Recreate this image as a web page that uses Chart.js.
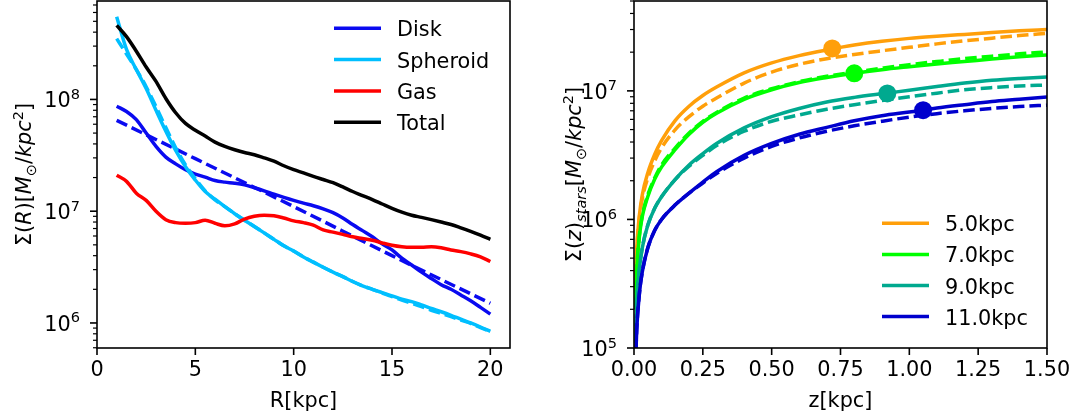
<!DOCTYPE html>
<html>
<head>
<meta charset="utf-8">
<script src="https://cdn.jsdelivr.net/npm/chart.js@4"></script>
<style>
  body { margin: 0; background: #fff; overflow: hidden; }
  #c1 { position: absolute; left: 0; top: 0; }
  #c2 { position: absolute; left: 560px; top: 0; }
</style>
</head>
<body>
<canvas id="c1" width="540" height="419"></canvas>
<canvas id="c2" width="518" height="419"></canvas>
<script>
// ---- left panel: surface density vs radius
const radius = [1, 1.5, 2, 2.5, 3, 3.5, 4, 4.5, 5, 5.5, 6, 6.5, 7, 7.5, 8, 8.5, 9, 9.5, 10, 10.5,
  11, 11.5, 12, 12.5, 13, 13.5, 14, 14.5, 15, 15.5, 16, 16.5, 17, 17.5, 18, 18.5, 19, 19.5, 20];
const diskR = [8.7e7, 7.8e7, 6.6e7, 5.0e7, 3.8e7, 3.05e7, 2.65e7, 2.35e7, 2.15e7, 2.02e7, 1.88e7, 1.82e7,
  1.78e7, 1.72e7, 1.62e7, 1.52e7, 1.42e7, 1.33e7, 1.25e7, 1.18e7, 1.12e7, 1.05e7, 9.7e6, 8.7e6, 7.6e6,
  6.7e6, 5.9e6, 5.1e6, 4.5e6, 3.8e6, 3.3e6, 2.85e6, 2.5e6, 2.2e6, 2.0e6, 1.78e6, 1.58e6, 1.38e6, 1.2e6];
const spheroidR = [5.5e8, 2.8e8, 1.85e8, 1.25e8, 8.0e7, 5.2e7, 3.5e7, 2.5e7, 1.9e7, 1.5e7, 1.28e7, 1.1e7,
  9.5e6, 8.3e6, 7.3e6, 6.4e6, 5.6e6, 4.9e6, 4.4e6, 3.9e6, 3.5e6, 3.15e6, 2.85e6, 2.6e6, 2.35e6, 2.15e6,
  2.0e6, 1.87e6, 1.75e6, 1.63e6, 1.55e6, 1.45e6, 1.35e6, 1.26e6, 1.17e6, 1.08e6, 1.0e6, 9.2e5, 8.4e5];
const spheroidFit = [3.5e8, 2.55e8, 1.85e8, 1.3e8, 8.6e7, 5.6e7, 3.7e7, 2.6e7, 1.95e7, 1.52e7, 1.26e7, 1.1e7,
  9.5e6, 8.3e6, 7.3e6, 6.4e6, 5.6e6, 4.9e6, 4.4e6, 3.9e6, 3.5e6, 3.15e6, 2.85e6, 2.6e6, 2.35e6, 2.15e6,
  2.0e6, 1.85e6, 1.72e6, 1.6e6, 1.5e6, 1.4e6, 1.3e6, 1.22e6, 1.14e6, 1.06e6, 9.9e5, 9.1e5, 8.4e5];
const gasR = [2.1e7, 1.85e7, 1.45e7, 1.25e7, 1.0e7, 8.4e6, 7.9e6, 7.8e6, 7.9e6, 8.3e6, 7.8e6, 7.4e6, 7.7e6,
  8.5e6, 9.0e6, 9.2e6, 9.1e6, 8.7e6, 8.2e6, 7.9e6, 7.5e6, 6.8e6, 6.5e6, 6.2e6, 5.9e6, 5.7e6, 5.5e6, 5.2e6,
  4.95e6, 4.8e6, 4.75e6, 4.75e6, 4.8e6, 4.7e6, 4.5e6, 4.35e6, 4.15e6, 3.9e6, 3.55e6];
const totalR = [4.6e8, 3.65e8, 2.7e8, 1.95e8, 1.45e8, 1.02e8, 7.6e7, 6.1e7, 5.3e7, 4.7e7, 4.15e7, 3.8e7, 3.55e7,
  3.35e7, 3.2e7, 3.0e7, 2.8e7, 2.55e7, 2.35e7, 2.2e7, 2.05e7, 1.92e7, 1.8e7, 1.65e7, 1.5e7, 1.38e7, 1.27e7,
  1.16e7, 1.06e7, 9.8e6, 9.2e6, 8.8e6, 8.4e6, 8.0e6, 7.6e6, 7.1e6, 6.6e6, 6.1e6, 5.6e6];
const fitR = [1, 5, 10, 15, 20];
const diskFit = [6.5e7, 2.95e7, 1.1e7, 4.0e6, 1.5e6];
const xTicksR = [0, 5, 10, 15, 20];

// ---- right panel: cumulative vertical profile
const heights = [0.005, 0.01, 0.02, 0.03, 0.05, 0.075, 0.1, 0.15, 0.2, 0.25, 0.3, 0.4, 0.5, 0.6, 0.7,
  0.8, 0.9, 1.0, 1.1, 1.2, 1.3, 1.4, 1.5];
const prof5 = [3.0e5, 6.0e5, 1.1e6, 1.55e6, 2.3e6, 3.2e6, 4.1e6, 5.9e6, 7.6e6, 9.2e6, 1.07e7, 1.38e7, 1.65e7,
  1.88e7, 2.08e7, 2.27e7, 2.43e7, 2.56e7, 2.66e7, 2.75e7, 2.84e7, 2.93e7, 3.0e7];
const fit5 = [2.8e5, 5.6e5, 1.05e6, 1.45e6, 2.1e6, 2.85e6, 3.6e6, 5.0e6, 6.3e6, 7.6e6, 8.8e6, 1.15e7, 1.4e7,
  1.61e7, 1.78e7, 1.92e7, 2.05e7, 2.18e7, 2.32e7, 2.45e7, 2.57e7, 2.69e7, 2.8e7];
const prof7 = [2.0e5, 4.0e5, 7.5e5, 1.05e6, 1.5e6, 2.05e6, 2.55e6, 3.5e6, 4.6e6, 5.7e6, 6.7e6, 8.6e6, 1.02e7,
  1.16e7, 1.27e7, 1.37e7, 1.46e7, 1.54e7, 1.62e7, 1.69e7, 1.77e7, 1.84e7, 1.9e7];
const fit7 = [2.0e5, 4.1e5, 7.7e5, 1.07e6, 1.55e6, 2.1e6, 2.65e6, 3.6e6, 4.7e6, 5.8e6, 6.8e6, 8.8e6, 1.04e7,
  1.18e7, 1.3e7, 1.4e7, 1.5e7, 1.6e7, 1.69e7, 1.78e7, 1.86e7, 1.94e7, 2.01e7];
const prof9 = [1.1e5, 2.2e5, 4.2e5, 6.0e5, 9.0e5, 1.22e6, 1.5e6, 2.05e6, 2.65e6, 3.25e6, 3.9e6, 5.15e6, 6.3e6,
  7.3e6, 8.2e6, 8.9e6, 9.5e6, 1.01e7, 1.08e7, 1.15e7, 1.21e7, 1.25e7, 1.28e7];
const fit9 = [1.1e5, 2.2e5, 4.2e5, 6.0e5, 9.0e5, 1.22e6, 1.5e6, 2.05e6, 2.6e6, 3.15e6, 3.75e6, 4.85e6, 5.8e6,
  6.5e6, 7.2e6, 7.8e6, 8.4e6, 9.0e6, 9.6e6, 1.02e7, 1.06e7, 1.09e7, 1.11e7];
const prof11 = [7e4, 1.4e5, 2.7e5, 3.9e5, 6.0e5, 8.2e5, 1.0e6, 1.3e6, 1.6e6, 1.95e6, 2.35e6, 3.15e6, 3.9e6,
  4.6e6, 5.2e6, 5.85e6, 6.4e6, 6.85e6, 7.35e6, 7.8e6, 8.25e6, 8.6e6, 8.98e6];
const fit11 = [7e4, 1.4e5, 2.7e5, 3.9e5, 6.0e5, 8.2e5, 1.0e6, 1.3e6, 1.6e6, 1.92e6, 2.28e6, 3.0e6, 3.7e6,
  4.3e6, 4.85e6, 5.35e6, 5.8e6, 6.25e6, 6.65e6, 7.0e6, 7.3e6, 7.55e6, 7.74e6];
const markZ = [0.72, 0.80, 0.92, 1.05];
const markVal = [2.14e7, 1.37e7, 9.55e6, 7.08e6];
const radiiLabels = ['5.0kpc', '7.0kpc', '9.0kpc', '11.0kpc'];
const xTicksZ = [0, 0.25, 0.5, 0.75, 1.0, 1.25, 1.5];

const FONT = "'DejaVu Sans', sans-serif";
const FS = 20.8;
const LW = 3.5;
const zColors = ['#ff9f0a', '#00ff00', '#00a98f', '#0000cd'];

function curve(xs, ys, color, label, dashed) {
  return {
    label: label,
    data: xs.map((x, i) => ({ x: x, y: ys[i] })),
    borderColor: color,
    backgroundColor: color,
    borderWidth: LW,
    borderDash: dashed ? [11.6, 5] : [],
    borderJoinStyle: 'round',
    pointRadius: 0,
    cubicInterpolationMode: 'monotone',
    fill: false
  };
}

// mathtext-ish label: list of segments, drawn along the baseline
function richText(ctx, segs, size, draw) {
  let w = 0;
  segs.forEach(s => {
    const small = s.sub || s.sup;
    ctx.font = (s.it ? 'italic ' : '') + (small ? size * 0.7 : size) + 'px ' + FONT;
    const dy = s.sub ? size * 0.22 : s.sup ? -size * 0.4 : 0;
    if (draw) ctx.fillText(s.t, w, dy);
    w += ctx.measureText(s.t).width;
  });
  return w;
}

// frame, log ticks with 10^n labels, y title, legend
const decor = {
  id: 'decor',
  afterDraw(chart, args, o) {
    const ctx = chart.ctx, a = chart.chartArea;
    const xs = chart.scales.x, ys = chart.scales.y;
    ctx.save();
    ctx.strokeStyle = '#000';
    ctx.fillStyle = '#000';
    ctx.setLineDash([]);
    ctx.lineWidth = 1.6;
    ctx.strokeRect(a.left, a.top, a.right - a.left, a.bottom - a.top);

    xs.ticks.forEach(t => {
      const px = xs.getPixelForValue(t.value);
      ctx.beginPath(); ctx.moveTo(px, a.bottom); ctx.lineTo(px, a.bottom + 7); ctx.stroke();
    });

    const e0 = Math.floor(Math.log10(ys.min)), e1 = Math.ceil(Math.log10(ys.max));
    for (let e = e0; e <= e1; e++) {
      for (let s = 1; s < 10; s++) {
        const v = s * Math.pow(10, e);
        if (v < ys.min * 0.9999 || v > ys.max * 1.0001) continue;
        const py = ys.getPixelForValue(v);
        const major = s === 1;
        ctx.lineWidth = major ? 1.6 : 1.2;
        ctx.beginPath(); ctx.moveTo(a.left - (major ? 7 : 4), py); ctx.lineTo(a.left, py); ctx.stroke();
        if (major) {
          ctx.textAlign = 'left';
          ctx.textBaseline = 'alphabetic';
          ctx.font = (FS * 0.7) + 'px ' + FONT;
          const ew = ctx.measureText(String(e)).width;
          ctx.font = FS + 'px ' + FONT;
          const bw = ctx.measureText('10').width;
          const right = a.left - 17;
          ctx.fillText('10', right - ew - bw, py + 8);
          ctx.font = (FS * 0.7) + 'px ' + FONT;
          ctx.fillText(String(e), right - ew, py - 0.5);
        }
      }
    }

    // y title, rotated
    const yt = o.ytitle;
    ctx.save();
    ctx.translate(yt.x, (a.top + a.bottom) / 2);
    ctx.rotate(-Math.PI / 2);
    ctx.textAlign = 'left';
    ctx.textBaseline = 'alphabetic';
    const w = richText(ctx, yt.segs, FS, false);
    ctx.translate(-w / 2, 0);
    richText(ctx, yt.segs, FS, true);
    ctx.restore();

    // legend (solid series only)
    const lg = o.legend;
    let row = 0;
    chart.data.datasets.forEach(d => {
      if (!d.label) return;
      const y = lg.y + row * lg.dy;
      ctx.strokeStyle = d.borderColor;
      ctx.lineWidth = LW;
      ctx.beginPath(); ctx.moveTo(lg.x, y); ctx.lineTo(lg.x + 47, y); ctx.stroke();
      ctx.fillStyle = '#000';
      ctx.font = FS + 'px ' + FONT;
      ctx.textAlign = 'left';
      ctx.textBaseline = 'alphabetic';
      ctx.fillText(d.label, lg.x + 63, y + 8);
      row++;
    });
    ctx.restore();
  }
};

function xAxis(min, max, tickVals, fmt, title) {
  return {
    type: 'linear', min: min, max: max,
    afterBuildTicks: s => { s.ticks = tickVals.map(v => ({ value: v })); },
    afterFit: s => { s.height = 71; s.paddingLeft = 0; s.paddingRight = 0; },
    grid: { drawOnChartArea: false, drawTicks: false },
    border: { display: false },
    ticks: { font: { family: FONT, size: FS }, color: '#000', padding: 10, maxRotation: 0, autoSkip: false, callback: fmt },
    title: { display: true, text: title, font: { family: FONT, size: FS }, color: '#000', padding: { top: 0, bottom: 5 } }
  };
}

function yAxis(min, max, width) {
  return {
    type: 'logarithmic', min: min, max: max,
    afterFit: s => { s.width = width; },
    grid: { display: false },
    border: { display: false },
    ticks: { display: false }
  };
}

// left chart
const leftSets = [
  curve(radius, diskR, '#0a0af0', 'Disk', false),
  curve(fitR, diskFit, '#0a0af0', undefined, true),
  curve(radius, spheroidR, '#00bfff', 'Spheroid', false),
  curve(radius, spheroidFit, '#00bfff', undefined, true),
  curve(radius, gasR, '#ff0000', 'Gas', false),
  curve(radius, totalR, '#000000', 'Total', false)
];
leftSets.forEach((d, i) => { d.order = -i; });

new Chart(document.getElementById('c1'), {
  type: 'line',
  data: { datasets: leftSets },
  options: {
    responsive: false,
    animation: false,
    layout: { autoPadding: false, padding: { top: 1, right: 30, left: 0, bottom: 0 } },
    plugins: {
      legend: { display: false },
      tooltip: { enabled: false },
      decor: {
        ytitle: { x: 31, segs: [{ t: 'Σ(' }, { t: 'R', it: true }, { t: ')[' }, { t: 'M', it: true }, { t: '⊙', sub: true },
          { t: '/' }, { t: 'kpc', it: true }, { t: '2', sup: true }, { t: ']' }] },
        legend: { x: 334, y: 28.3, dy: 31.3 }
      }
    },
    scales: {
      x: xAxis(0, 21, xTicksR, v => String(v), 'R[kpc]'),
      y: yAxis(5.97e5, 7.6e8, 97)
    }
  },
  plugins: [decor]
});

// right chart
const rightSets = [];
const profs = [prof5, prof7, prof9, prof11];
const fits = [fit5, fit7, fit9, fit11];
profs.forEach((p, i) => {
  rightSets.push(curve(heights, p, zColors[i], radiiLabels[i], false));
  rightSets.push(curve(heights, fits[i], zColors[i], undefined, true));
});
rightSets.forEach((d, i) => { d.order = -i; });
rightSets.push({
  data: markZ.map((z, i) => ({ x: z, y: markVal[i] })),
  showLine: false,
  pointRadius: 9,
  pointHoverRadius: 9,
  pointBorderWidth: 0,
  pointBackgroundColor: zColors,
  pointBorderColor: zColors,
  order: -100
});

new Chart(document.getElementById('c2'), {
  type: 'line',
  data: { datasets: rightSets },
  options: {
    responsive: false,
    animation: false,
    layout: { autoPadding: false, padding: { top: 1, right: 31, left: 0, bottom: 0 } },
    plugins: {
      legend: { display: false },
      tooltip: { enabled: false },
      decor: {
        ytitle: { x: 21, segs: [{ t: 'Σ(' }, { t: 'z', it: true }, { t: ')' }, { t: 'stars', it: true, sub: true }, { t: '[' },
          { t: 'M', it: true }, { t: '⊙', sub: true }, { t: '/' }, { t: 'kpc', it: true }, { t: '2', sup: true }, { t: ']' }] },
        legend: { x: 322, y: 223.3, dy: 31.1 }
      }
    },
    scales: {
      x: xAxis(0, 1.5, xTicksZ, v => v.toFixed(2), 'z[kpc]'),
      y: yAxis(1e5, 5e7, 74)
    }
  },
  plugins: [decor]
});
</script>
</body>
</html>
